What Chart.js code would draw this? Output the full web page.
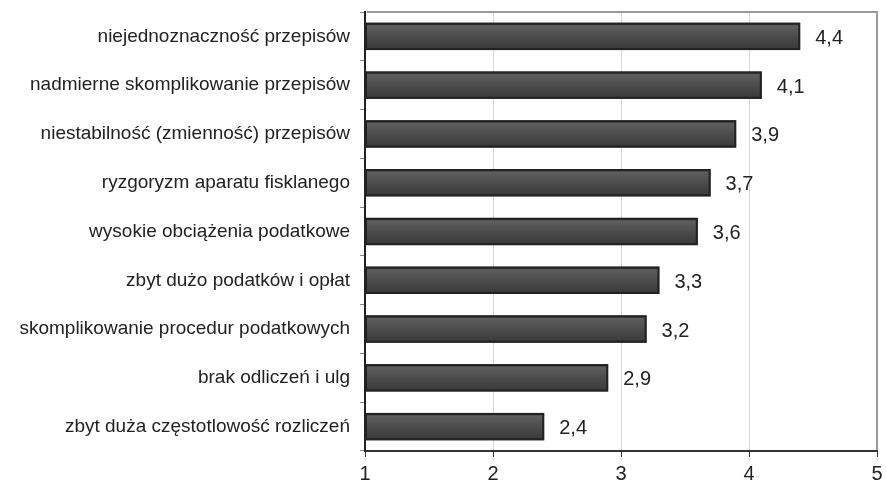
<!DOCTYPE html>
<html>
<head>
<meta charset="utf-8">
<script src="https://cdn.jsdelivr.net/npm/chart.js@4/dist/chart.umd.min.js"></script>
<style>
  html, body { margin: 0; padding: 0; background: #fff; }
  #wrap { width: 886px; height: 485px; position: relative; }
</style>
</head>
<body>
<div id="wrap"><canvas id="BarChart"></canvas></div>
<script>
const labels = [
    'niejednoznaczność przepisów',
    'nadmierne skomplikowanie przepisów',
    'niestabilność (zmienność) przepisów',
    'ryzgoryzm aparatu fisklanego',
    'wysokie obciążenia podatkowe',
    'zbyt dużo podatków i opłat',
    'skomplikowanie procedur podatkowych',
    'brak odliczeń i ulg',
    'zbyt duża częstotlowość rozliczeń'
];
const values = [4.4, 4.1, 3.9, 3.7, 3.6, 3.3, 3.2, 2.9, 2.4];
const xTicks = [1, 2, 3, 4, 5];

const fontFamily = '"Liberation Sans", Arial, sans-serif';

// gradient fill, value labels and gray frame
const barStyle = {
    id: 'barStyle',
    afterDatasetsDraw(chart) {
        const ctx = chart.ctx;
        const meta = chart.getDatasetMeta(0);
        const xs = chart.scales.x;
        const ys = chart.scales.y;

        ctx.save();
        ctx.strokeStyle = '#9a9a9a';
        ctx.lineWidth = 2;
        ctx.beginPath();
        ctx.moveTo(xs.left + 2, ys.top);
        ctx.lineTo(xs.right, ys.top);
        ctx.lineTo(xs.right, ys.bottom - 1);
        ctx.stroke();
        ctx.restore();

        meta.data.forEach((bar, i) => {
            const top = bar.y - bar.height / 2;
            const left = Math.max(bar.base, xs.left);
            const w = bar.x - left;
            const g = ctx.createLinearGradient(0, top, 0, top + bar.height);
            g.addColorStop(0, '#2a2a2a');
            g.addColorStop(0.12, '#5e5e5e');
            g.addColorStop(0.5, '#4c4c4c');
            g.addColorStop(1, '#383838');
            ctx.save();
            ctx.fillStyle = g;
            ctx.fillRect(left, top, w, bar.height);
            ctx.strokeStyle = '#222';
            ctx.lineWidth = 2;
            ctx.strokeRect(left + 1, top + 1, w - 2, bar.height - 2);
            ctx.fillStyle = '#222';
            ctx.font = '20px ' + fontFamily;
            ctx.textBaseline = 'middle';
            ctx.textAlign = 'left';
            ctx.fillText(values[i].toFixed(1).replace('.', ','), bar.x + 15, bar.y + 2);
            ctx.restore();
        });
    }
};

const config = {
    type: 'bar',
    data: {
        labels: labels,
        datasets: [{
            data: values,
            backgroundColor: 'rgba(0,0,0,0)',
            borderWidth: 0,
            barPercentage: 0.56,
            categoryPercentage: 1
        }]
    },
    options: {
        indexAxis: 'y',
        responsive: true,
        maintainAspectRatio: false,
        animation: false,
        layout: { padding: { top: 12, right: 9, left: 0, bottom: 0 } },
        plugins: {
            legend: { display: false },
            tooltip: { enabled: false }
        },
        scales: {
            x: {
                min: 1,
                max: 5,
                afterBuildTicks(scale) {
                    scale.ticks = xTicks.map(v => ({ value: v }));
                },
                afterFit(scale) {
                    scale.height = 34;
                    scale.paddingRight = 0;
                },
                grid: {
                    color: '#d8d8d8',
                    tickColor: '#333',
                    tickLength: 6,
                    lineWidth: 1
                },
                border: { color: '#333', width: 2 },
                ticks: {
                    color: '#222',
                    padding: 5,
                    font: { family: fontFamily, size: 20 }
                }
            },
            y: {
                afterFit(scale) {
                    scale.width = 365;
                    scale.paddingTop = 0;
                    scale.paddingBottom = 0;
                },
                grid: {
                    drawOnChartArea: false,
                    tickColor: '#888',
                    tickLength: 5,
                    offset: true
                },
                border: { color: '#222', width: 2 },
                ticks: {
                    color: '#222',
                    padding: 10,
                    font: { family: fontFamily, size: 19 }
                }
            }
        }
    },
    plugins: [barStyle]
};

new Chart(document.getElementById('BarChart'), config);
</script>
</body>
</html>
